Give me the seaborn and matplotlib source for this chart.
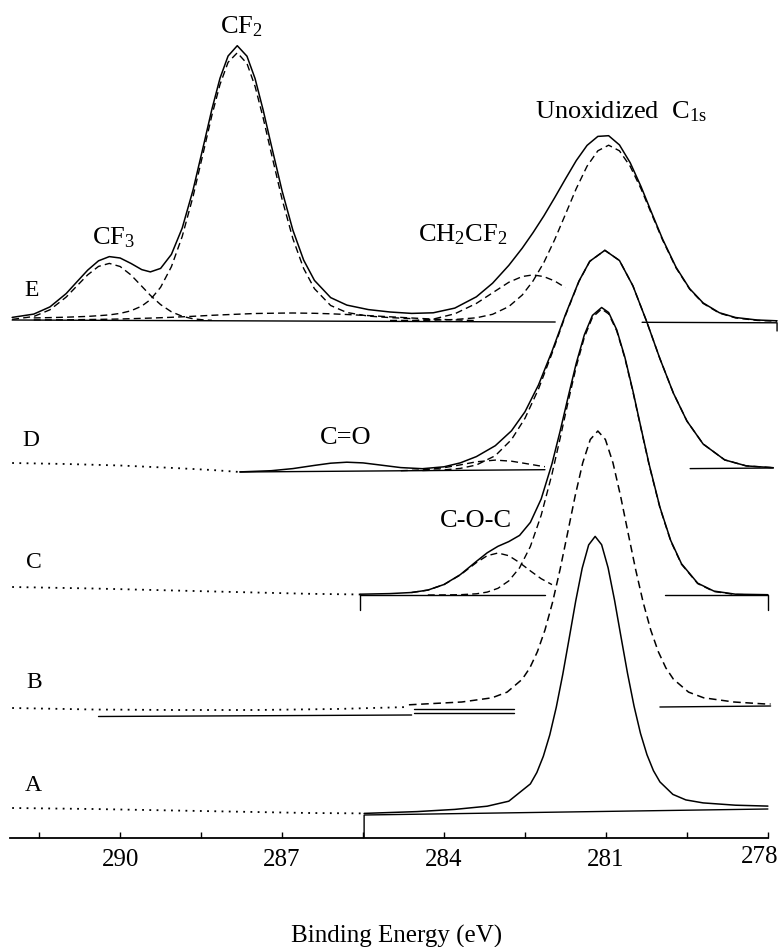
import matplotlib
matplotlib.use('Agg')
import matplotlib.pyplot as plt
import seaborn as sns

# C1s spectra A-E, binding energy (eV) vs. stacked intensity (arb.)

# A
a_dot_be = [292.0, 290.5, 289.0, 287.5, 286.5, 285.48]
a_dot_int = [30.0, 29.0, 27.5, 26.0, 25.0, 24.6]
a_be = [285.48, 284.5, 283.8, 283.2, 282.8, 282.4, 282.28, 282.16, 282.04, 281.92, 281.8, 281.68,
        281.56, 281.44, 281.32, 281.2, 281.08, 280.96, 280.84, 280.72, 280.6, 280.48, 280.36,
        280.24, 280.12, 280.0, 279.76, 279.52, 279.2, 278.6, 278.0]
a_int = [24.6, 26.4, 28.6, 31.8, 36.8, 54.1, 65.5, 81.7, 103.2, 130.8, 163.6, 200.0, 237.0, 269.8,
         293.1, 301.6, 293.3, 270.2, 237.6, 200.8, 164.6, 132.0, 104.6, 83.3, 67.3, 56.1, 43.6,
         38.1, 35.1, 32.8, 31.9]
a_base_be = [285.48, 285.48, 278.0]
a_base_int = [0.0, 23.0, 29.0]

# B
b_dot_be = [292.0, 290.5, 289.0, 287.5, 286.0, 284.65]
b_dot_int = [130.0, 128.5, 128.0, 128.0, 129.0, 131.0]
b_be = [284.65, 283.67, 283.11, 282.83, 282.55, 282.41, 282.27, 282.13, 281.99, 281.85, 281.71,
        281.57, 281.43, 281.29, 281.15, 281.01, 280.87, 280.73, 280.59, 280.45, 280.31, 280.17,
        280.03, 279.89, 279.75, 279.47, 279.19, 278.63, 278.07, 277.95]
b_int = [133.2, 136.0, 140.2, 145.9, 158.8, 170.1, 186.3, 207.9, 235.5, 268.5, 305.1, 342.2,
         375.2, 398.5, 407.0, 398.5, 375.2, 342.2, 305.1, 268.5, 235.5, 207.9, 186.3, 170.1,
         158.8, 145.9, 140.2, 136.0, 134.1, 134.0]
b_base1_be = [290.4, 284.6]
b_base1_int = [121.5, 123.0]
b_base2_be = [284.55, 282.7]
b_base2_int = [129.0, 129.0]
b_base3_be = [284.55, 282.7]
b_base3_int = [125.5, 125.5]
b_base4_be = [280.0, 277.95]
b_base4_int = [131.0, 132.0]

# C
c_dot_be = [292.0, 290.5, 289.0, 287.5, 286.5, 285.55]
c_dot_int = [251.0, 249.5, 247.5, 245.5, 244.2, 243.5]
c_be = [285.55, 285.0, 284.6, 284.3, 284.0, 283.7, 283.4, 283.2, 283.0, 282.8, 282.6, 282.4,
        282.2, 282.0, 281.85, 281.7, 281.55, 281.4, 281.25, 281.08, 280.95, 280.8, 280.65, 280.5,
        280.35, 280.2, 280.0, 279.8, 279.6, 279.3, 279.0, 278.6, 278.0]
c_int = [243.8, 244.4, 245.5, 247.9, 253.5, 263.3, 276.6, 285.2, 291.7, 296.4, 302.6, 315.6,
         339.0, 374.2, 406.6, 441.2, 474.8, 503.2, 522.6, 530.5, 525.5, 508.2, 480.9, 447.0,
         410.0, 373.7, 330.8, 297.5, 274.2, 254.8, 246.9, 243.8, 243.3]
c_main_be = [284.3, 284.0, 283.7, 283.4, 283.2, 283.0, 282.8, 282.6, 282.4, 282.2, 282.0, 281.85,
             281.7, 281.55, 281.4, 281.25, 281.08, 280.95, 280.8, 280.65, 280.5, 280.35, 280.2,
             280.0, 279.8, 279.6, 279.3, 279.0, 278.6, 278.0]
c_main_int = [243.0, 243.1, 243.3, 244.2, 245.9, 249.7, 257.1, 270.2, 291.5, 322.7, 363.8, 399.4,
              436.3, 471.4, 500.7, 520.7, 529.0, 524.1, 507.1, 479.9, 446.1, 409.2, 373.0,
              330.2, 296.9, 273.7, 254.4, 246.5, 243.5, 243.0]
c_coc_be = [284.6, 284.3, 284.0, 283.7, 283.4, 283.2, 283.0, 282.8, 282.6, 282.4, 282.2, 282.0]
c_coc_int = [245.5, 247.9, 253.4, 263.0, 275.4, 282.3, 285.0, 282.3, 275.4, 267.1, 259.3, 253.4]
c_base1_be = [285.55, 285.55, 282.13]
c_base1_int = [228.0, 243.0, 243.0]
c_base2_be = [279.9, 278.0, 278.0]
c_base2_int = [243.0, 243.0, 228.0]

# D
d_dot_be = [292.0, 291.0, 290.0, 289.0, 288.3, 287.78]
d_dot_int = [375.0, 374.0, 372.5, 370.0, 368.0, 366.0]
d_be = [287.78, 287.2, 286.8, 286.4, 286.1, 285.8, 285.5, 285.2, 284.8, 284.4, 284.0, 283.7,
        283.4, 283.05, 282.75, 282.5, 282.25, 282.0, 281.75, 281.5, 281.3, 281.02, 280.75, 280.5,
        280.25, 280.0, 279.75, 279.5, 279.2, 278.8, 278.4, 277.9]
d_int = [366.1, 367.3, 369.4, 372.6, 374.8, 375.8, 375.1, 373.1, 370.4, 369.3, 371.2, 375.1,
         381.4, 392.3, 407.2, 426.2, 453.0, 486.6, 523.4, 556.9, 576.7, 587.7, 577.5, 552.1,
         517.1, 479.3, 444.8, 417.0, 394.0, 378.1, 372.1, 370.3]
d_main_be = [284.4, 284.0, 283.7, 283.4, 283.05, 282.75, 282.5, 282.25, 282.0, 281.75, 281.5,
             281.3, 281.02, 280.75, 280.5, 280.25, 280.0, 279.75, 279.5, 279.2, 278.8, 278.4, 277.9]
d_main_int = [367.5, 368.1, 369.6, 373.0, 382.3, 398.4, 419.7, 448.9, 484.5, 522.5, 556.6,
              576.6, 587.7, 577.5, 552.1, 517.1, 479.3, 444.8, 417.0, 394.0, 378.1, 372.1, 370.3]
d_sh_be = [284.8, 284.4, 284.0, 283.7, 283.4, 283.05, 282.75, 282.5, 282.25, 282.13]
d_sh_int = [367.3, 368.1, 370.3, 373.1, 376.2, 377.9, 376.8, 374.6, 372.3, 371.3]
d_base1_be = [287.78, 282.13]
d_base1_int = [366.0, 368.3]
d_base2_be = [279.44, 277.9]
d_base2_int = [369.4, 370.0]

# E
e_be = [292.0, 291.6, 291.3, 291.0, 290.8, 290.6, 290.4, 290.2, 290.0, 289.8, 289.6, 289.44,
        289.25, 289.05, 288.85, 288.65, 288.45, 288.3, 288.15, 288.0, 287.83, 287.65, 287.5,
        287.35, 287.2, 287.0, 286.8, 286.6, 286.4, 286.1, 285.8, 285.4, 285.0, 284.6, 284.2,
        283.8, 283.4, 283.1, 282.8, 282.55, 282.35, 282.15, 281.95, 281.75, 281.55, 281.35,
        281.15, 280.95, 280.75, 280.55, 280.35, 280.15, 279.95, 279.7, 279.45, 279.2, 278.9,
        278.6, 278.2, 277.83]
e_int = [520.6, 523.9, 531.1, 544.4, 556.2, 567.9, 577.2, 581.4, 580.0, 574.6, 568.4, 566.1,
         569.6, 583.6, 609.9, 647.8, 693.7, 728.7, 759.7, 782.0, 792.3, 781.8, 759.4, 727.9,
         692.9, 647.2, 607.9, 577.9, 557.6, 540.4, 532.9, 528.4, 526.0, 524.6, 525.2, 529.9,
         541.2, 554.8, 572.6, 589.9, 605.4, 622.1, 640.3, 659.1, 677.4, 692.6, 701.6, 702.3,
         693.1, 675.2, 651.4, 624.8, 598.8, 570.6, 549.4, 535.1, 525.3, 520.5, 518.0, 517.2]
e_cf3_be = [292.0, 291.6, 291.3, 291.0, 290.8, 290.6, 290.4, 290.2, 290.0, 289.8, 289.6, 289.44,
            289.25, 289.05, 288.85, 288.65, 288.45, 288.3]
e_cf3_int = [518.6, 521.5, 528.2, 540.9, 552.1, 563.2, 571.6, 574.6, 571.5, 563.1, 551.8, 542.7,
             533.4, 526.2, 521.7, 519.2, 518.1, 517.7]
e_cf2_be = [291.6, 291.3, 291.0, 290.8, 290.6, 290.4, 290.2, 290.0, 289.8, 289.6, 289.44, 289.25,
            289.05, 288.85, 288.65, 288.45, 288.3, 288.15, 288.0, 287.83, 287.65, 287.5, 287.35,
            287.2, 287.0, 286.8, 286.6, 286.4, 286.1, 285.8, 285.4, 285.0, 284.6]
e_cf2_int = [520.1, 520.4, 520.8, 521.2, 521.6, 522.3, 523.1, 524.6, 527.2, 531.9, 538.3, 550.7,
             571.3, 601.5, 641.3, 687.6, 722.7, 753.5, 775.7, 785.2, 774.5, 751.6, 720.1, 684.9,
             638.8, 599.4, 569.5, 549.3, 532.5, 525.5, 521.9, 520.4, 519.4]
e_broad_be = [291.6, 291.0, 290.4, 290.0, 289.44, 289.05, 288.65, 288.3, 288.0, 287.5, 287.0,
              286.8, 286.4, 286.1, 285.8, 285.4, 285.0, 284.6, 284.2, 283.8, 283.4]
e_broad_int = [518.1, 518.2, 518.6, 519.0, 519.9, 520.7, 521.7, 522.7, 523.4, 524.5, 524.9,
               525.0, 524.7, 524.2, 523.5, 522.4, 521.2, 520.0, 518.9, 518.1, 517.4]
e_ch_be = [285.0, 284.6, 284.2, 283.8, 283.4, 283.1, 282.8, 282.55, 282.35, 282.15, 281.95, 281.75]
e_ch_int = [516.7, 517.1, 518.9, 524.2, 534.6, 545.2, 555.7, 561.5, 563.1, 561.4, 557.0, 550.4]
e_c1s_be = [285.0, 284.6, 284.2, 283.8, 283.4, 283.1, 282.8, 282.55, 282.35, 282.15, 281.95,
            281.75, 281.55, 281.35, 281.15, 280.95, 280.75, 280.55, 280.35, 280.15, 279.95,
            279.7, 279.45, 279.2, 278.9, 278.6, 278.2, 277.83]
e_c1s_int = [517.5, 517.6, 517.8, 518.5, 520.2, 523.7, 531.4, 543.0, 557.1, 575.5, 598.3, 623.7,
             649.4, 671.8, 687.2, 692.8, 687.2, 671.6, 649.2, 623.4, 597.9, 570.0, 548.9, 534.6,
             524.9, 520.1, 517.6, 516.8]
e_base1_be = [292.0, 281.94]
e_base1_int = [518.0, 516.0]
e_base2_be = [280.33, 277.83, 277.83]
e_base2_int = [515.7, 515.2, 507.0]

# labels
spec_names = ['A', 'B', 'C', 'D', 'E']
spec_name_be = [291.6, 291.6, 291.6, 291.65, 291.65]
spec_name_int = [53, 156, 276, 397, 548]
peak_names = ['CF$_2$', 'CF$_3$', 'CH$_2$CF$_2$', 'Unoxidized  C$_{1s}$', 'C=O', 'C-O-C']
peak_name_be = [287.76, 290.13, 283.65, 280.72, 285.83, 283.41]
peak_name_int = [811, 600, 603, 726, 400, 317]

major_ticks = [290, 287, 284, 281, 278]
minor_ticks = [291.5, 288.5, 285.5, 282.5, 279.5]

sns.set_theme(style='white')
plt.rcParams['font.family'] = ['Liberation Serif', 'DejaVu Serif']
plt.rcParams['mathtext.default'] = 'regular'

fig = plt.figure(figsize=(7.83, 9.47), dpi=100)
ax = fig.add_axes([10 / 783, 109 / 947, 773 / 783, 838 / 947])

SOLID = '-'
DASH = (0, (5, 3))
DOT = (0, (1, 3))


def line(x, y, ls=SOLID, lw=1.1):
    sns.lineplot(x=x, y=y, ax=ax, color='black', linewidth=lw, linestyle=ls,
                 estimator=None, sort=False, solid_joinstyle='round', dash_joinstyle='round')


# dotted raw data on the left
for x, y in [(a_dot_be, a_dot_int), (b_dot_be, b_dot_int), (c_dot_be, c_dot_int), (d_dot_be, d_dot_int)]:
    line(x, y, DOT, 1.3)

# baselines
for x, y in [(a_base_be, a_base_int), (b_base1_be, b_base1_int), (b_base2_be, b_base2_int),
             (b_base3_be, b_base3_int), (b_base4_be, b_base4_int), (c_base1_be, c_base1_int),
             (c_base2_be, c_base2_int), (d_base1_be, d_base1_int), (d_base2_be, d_base2_int),
             (e_base1_be, e_base1_int), (e_base2_be, e_base2_int)]:
    line(x, y, SOLID, 1.0)

# fitted envelopes
line(a_be, a_int)
line(c_be, c_int)
line(d_be, d_int)
line(e_be, e_int)
line(b_be, b_int, DASH, 1.1)

# components
for x, y in [(c_main_be, c_main_int), (c_coc_be, c_coc_int), (d_main_be, d_main_int),
             (d_sh_be, d_sh_int), (e_cf3_be, e_cf3_int), (e_cf2_be, e_cf2_int),
             (e_broad_be, e_broad_int), (e_ch_be, e_ch_int), (e_c1s_be, e_c1s_int)]:
    line(x, y, DASH, 1.0)

for s, x, y in zip(spec_names, spec_name_be, spec_name_int):
    ax.text(x, y, s, ha='center', va='center', fontsize=17, color='black')
for s, x, y in zip(peak_names, peak_name_be, peak_name_int):
    ax.text(x, y, s, ha='center', va='center', fontsize=19, color='black')

ax.set_xlim(292.04, 277.72)
ax.set_ylim(0, 838)
ax.set_xticks(major_ticks)
ax.set_xticklabels(['290', '287', '284', '281', ''])
ax.set_xticks(minor_ticks, minor=True)
ax.text(278.15, -19, '278', ha='center', va='center', fontsize=18, color='black', clip_on=False)
ax.set_yticks([])
ax.tick_params(axis='x', which='both', direction='in', length=4, width=1, bottom=True,
               labelsize=18, pad=8, colors='black')
sns.despine(ax=ax, left=True, top=True, right=True)
ax.spines['bottom'].set_bounds(292.04, 278)
ax.spines['bottom'].set_color('black')
ax.spines['bottom'].set_linewidth(1.3)
ax.set_ylabel('')
ax.set_xlabel('Binding Energy (eV)', fontsize=18, labelpad=39, color='black')

fig.savefig('out.png', dpi=100)
